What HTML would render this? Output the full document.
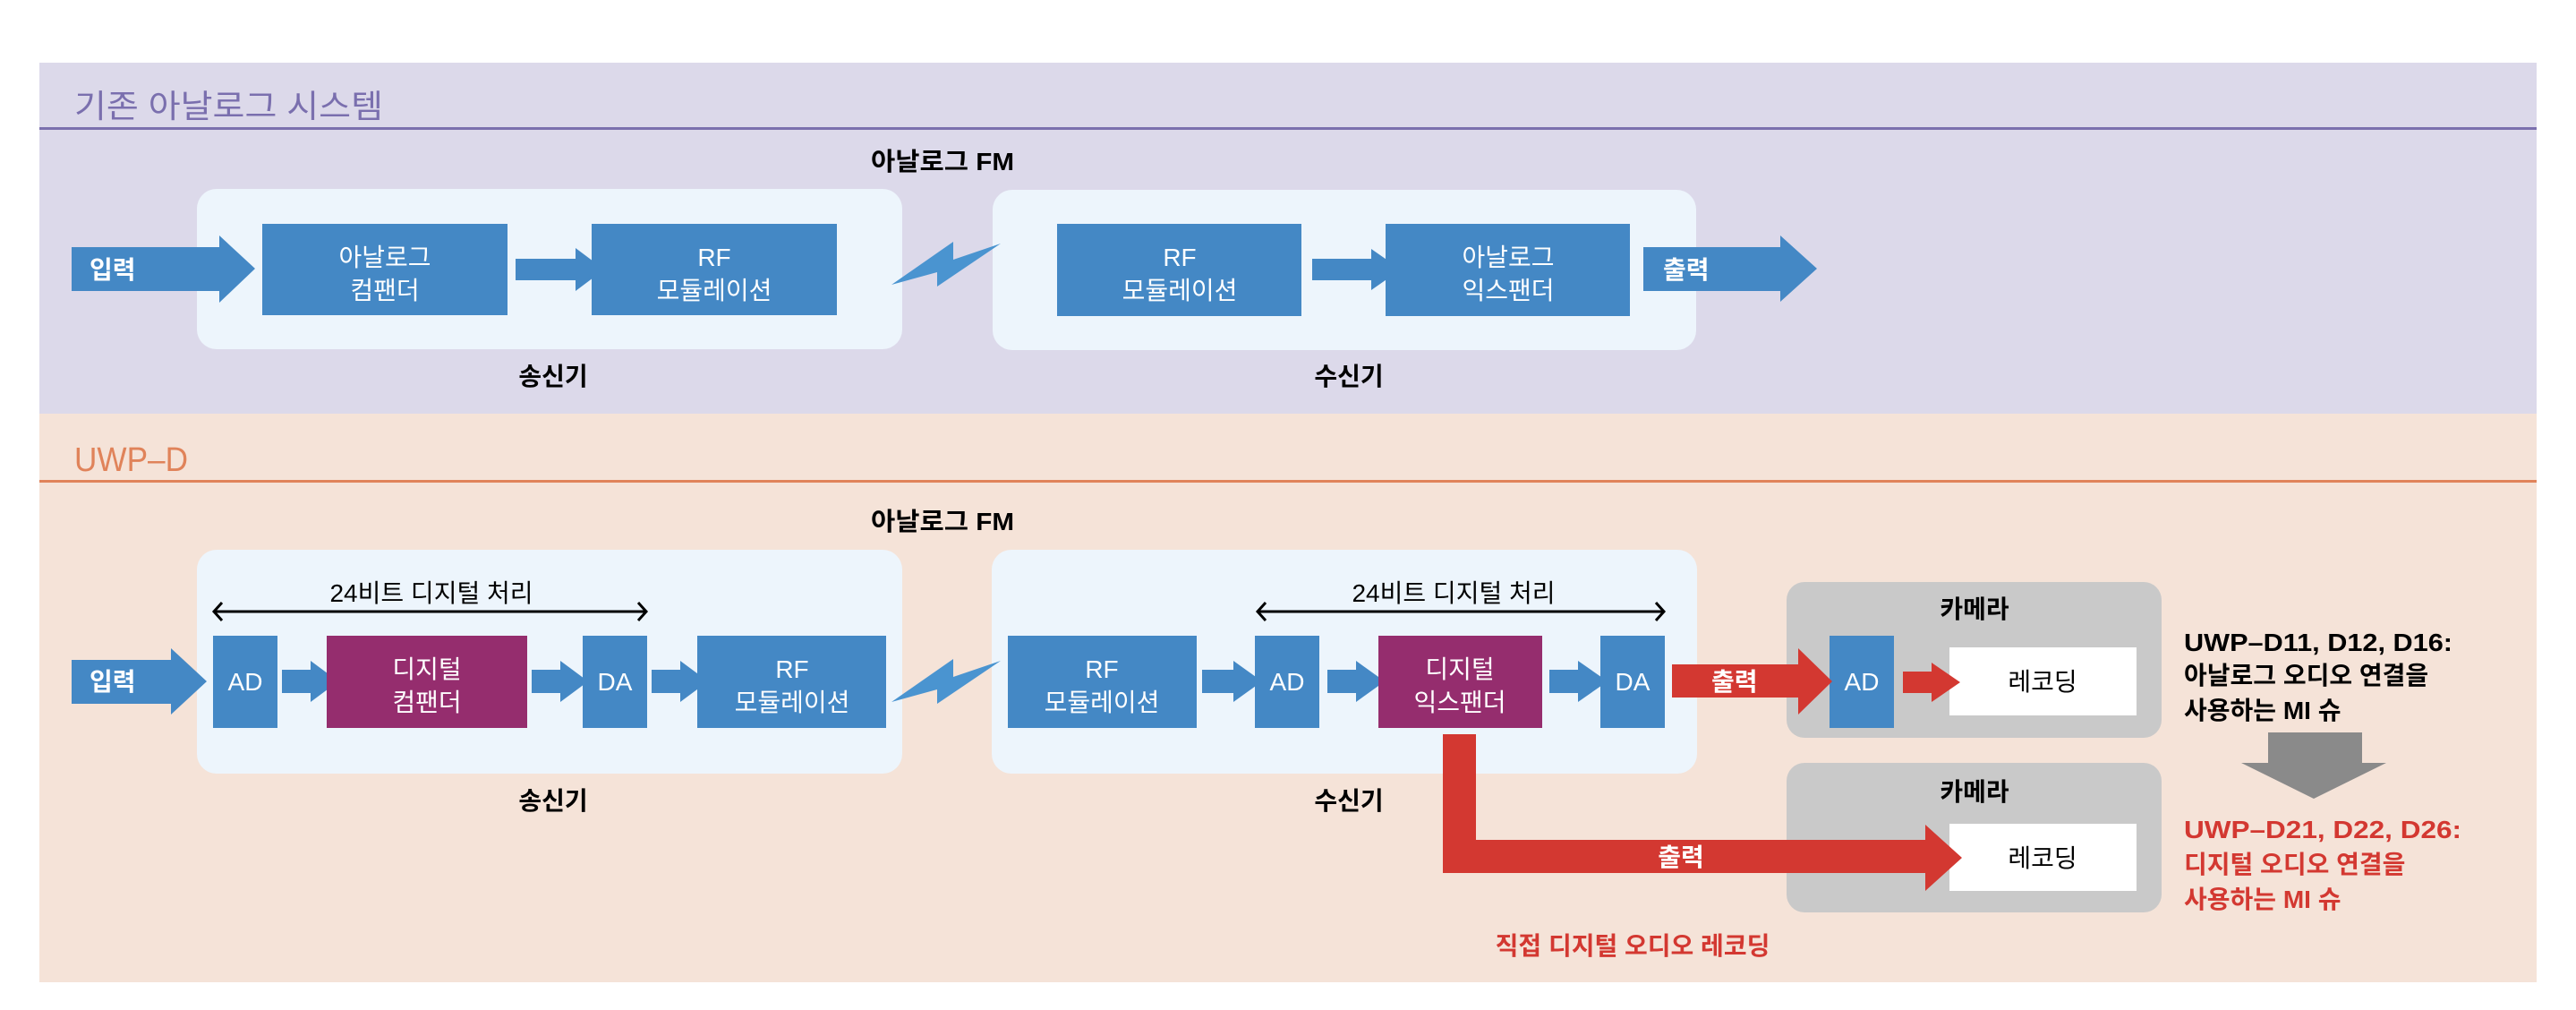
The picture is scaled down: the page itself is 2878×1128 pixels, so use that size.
<!DOCTYPE html>
<html><head><meta charset="utf-8"><style>
html,body{margin:0;padding:0;background:#fff;}
svg{display:block;}
text{font-family:"Liberation Sans","Noto Sans CJK KR",sans-serif;}
.w{fill:#fff;font-size:28px;}
.b{fill:#000;font-size:28px;font-weight:bold;}
.wb{fill:#fff;font-size:28px;font-weight:bold;}
</style></head><body>
<svg width="2878" height="1128" viewBox="0 0 2878 1128" xmlns="http://www.w3.org/2000/svg">
<rect x="44" y="70" width="2790" height="392" fill="#dcd9ea"/>
<rect x="44" y="462" width="2790" height="635" fill="#f5e3d8"/>
<text x="83" y="131" font-size="36" fill="#7a6fae" textLength="345" lengthAdjust="spacingAndGlyphs">기존 아날로그 시스템</text>
<rect x="44" y="142" width="2790" height="3" fill="#7b70ae"/>
<text x="83" y="526" font-size="38" fill="#e0835a" textLength="127" lengthAdjust="spacingAndGlyphs">UWP–D</text>
<rect x="44" y="536" width="2790" height="3" fill="#e0835a"/>

<!-- top section -->
<text class="b" x="973" y="190" textLength="160" lengthAdjust="spacingAndGlyphs">아날로그 FM</text>
<rect x="220" y="211" width="788" height="179" rx="22" fill="#edf5fc"/>
<rect x="1109" y="212" width="786" height="179" rx="22" fill="#edf5fc"/>
<polygon points="80,276 245,276 245,263 285,300 245,338 245,325 80,325" fill="#4488c5"/>
<text class="wb" x="100" y="311">입력</text>
<rect x="293" y="250" width="274" height="102" fill="#4488c5"/>
<text class="w" x="430" y="297" text-anchor="middle">아날로그</text>
<text class="w" x="430" y="334" text-anchor="middle">컴팬더</text>
<polygon points="576,289 643,289 643,277 675,301 643,325 643,313 576,313" fill="#4488c5"/>
<rect x="661" y="250" width="274" height="102" fill="#4488c5"/>
<text class="w" x="798" y="297" text-anchor="middle">RF</text>
<text class="w" x="798" y="334" text-anchor="middle">모듈레이션</text>
<polygon points="996,318 1065,270 1065,290 1118,272 1047,320 1047,304" fill="#4a94d0"/>
<rect x="1181" y="250" width="273" height="103" fill="#4488c5"/>
<text class="w" x="1318" y="297" text-anchor="middle">RF</text>
<text class="w" x="1318" y="334" text-anchor="middle">모듈레이션</text>
<polygon points="1466,289 1532,289 1532,278 1565,301 1532,324 1532,313 1466,313" fill="#4488c5"/>
<rect x="1548" y="250" width="273" height="103" fill="#4488c5"/>
<text class="w" x="1685" y="297" text-anchor="middle">아날로그</text>
<text class="w" x="1685" y="334" text-anchor="middle">익스팬더</text>
<polygon points="1836,276 1989,276 1989,263 2030,300 1989,337 1989,325 1836,325" fill="#4488c5"/>
<text class="wb" x="1858" y="311">출력</text>
<text class="b" x="618" y="430" text-anchor="middle">송신기</text>
<text class="b" x="1507" y="430" text-anchor="middle">수신기</text>

<!-- bottom section -->
<text class="b" x="973" y="592" textLength="160" lengthAdjust="spacingAndGlyphs">아날로그 FM</text>
<rect x="220" y="614" width="788" height="250" rx="22" fill="#edf5fc"/>
<rect x="1108" y="614" width="788" height="250" rx="22" fill="#edf5fc"/>
<text x="482" y="672" font-size="28" fill="#000" text-anchor="middle">24비트 디지털 처리</text>
<line x1="240" y1="683" x2="721" y2="683" stroke="#000" stroke-width="3"/>
<polyline points="248,673 239,683 248,693" fill="none" stroke="#000" stroke-width="3"/>
<polyline points="713,673 722,683 713,693" fill="none" stroke="#000" stroke-width="3"/>
<text x="1624" y="672" font-size="28" fill="#000" text-anchor="middle">24비트 디지털 처리</text>
<line x1="1406" y1="683" x2="1858" y2="683" stroke="#000" stroke-width="3"/>
<polyline points="1414,673 1405,683 1414,693" fill="none" stroke="#000" stroke-width="3"/>
<polyline points="1850,673 1859,683 1850,693" fill="none" stroke="#000" stroke-width="3"/>

<polygon points="80,737 191,737 191,724 231,761 191,798 191,786 80,786" fill="#4488c5"/>
<text class="wb" x="100" y="771">입력</text>
<rect x="238" y="710" width="72" height="103" fill="#4488c5"/>
<text class="w" x="274" y="771" text-anchor="middle">AD</text>
<polygon points="315,748 347,748 347,738 378,761 347,784 347,774 315,774" fill="#4488c5"/>
<rect x="365" y="710" width="224" height="103" fill="#952d6e"/>
<text class="w" x="477" y="757" text-anchor="middle">디지털</text>
<text class="w" x="477" y="794" text-anchor="middle">컴팬더</text>
<polygon points="594,748 626,748 626,738 657,761 626,784 626,774 594,774" fill="#4488c5"/>
<rect x="651" y="710" width="72" height="103" fill="#4488c5"/>
<text class="w" x="687" y="771" text-anchor="middle">DA</text>
<polygon points="728,748 760,748 760,738 791,761 760,784 760,774 728,774" fill="#4488c5"/>
<rect x="779" y="710" width="211" height="103" fill="#4488c5"/>
<text class="w" x="885" y="757" text-anchor="middle">RF</text>
<text class="w" x="885" y="794" text-anchor="middle">모듈레이션</text>
<polygon points="996,784 1065,736 1065,756 1118,738 1047,786 1047,770" fill="#4a94d0"/>
<rect x="1126" y="710" width="211" height="103" fill="#4488c5"/>
<text class="w" x="1231" y="757" text-anchor="middle">RF</text>
<text class="w" x="1231" y="794" text-anchor="middle">모듈레이션</text>
<polygon points="1343,748 1378,748 1378,738 1410,761 1378,784 1378,774 1343,774" fill="#4488c5"/>
<rect x="1402" y="710" width="72" height="103" fill="#4488c5"/>
<text class="w" x="1438" y="771" text-anchor="middle">AD</text>
<polygon points="1483,748 1515,748 1515,738 1547,761 1515,784 1515,774 1483,774" fill="#4488c5"/>
<rect x="1540" y="710" width="183" height="103" fill="#952d6e"/>
<text class="w" x="1631" y="757" text-anchor="middle">디지털</text>
<text class="w" x="1631" y="794" text-anchor="middle">익스팬더</text>
<polygon points="1731,748 1763,748 1763,738 1796,761 1763,784 1763,774 1731,774" fill="#4488c5"/>
<rect x="1788" y="710" width="72" height="103" fill="#4488c5"/>
<text class="w" x="1824" y="771" text-anchor="middle">DA</text>
<text class="b" x="618" y="904" text-anchor="middle">송신기</text>
<text class="b" x="1507" y="904" text-anchor="middle">수신기</text>

<!-- cameras -->
<rect x="1996" y="650" width="419" height="174" rx="20" fill="#c9c9c9"/>
<text class="b" x="2206" y="690" text-anchor="middle">카메라</text>
<rect x="2044" y="710" width="72" height="103" fill="#4488c5"/>
<text class="w" x="2080" y="771" text-anchor="middle">AD</text>
<rect x="2178" y="723" width="209" height="76" fill="#fff"/>
<text x="2282" y="771" font-size="28" fill="#000" text-anchor="middle">레코딩</text>
<rect x="1996" y="852" width="419" height="167" rx="20" fill="#c9c9c9"/>
<text class="b" x="2206" y="894" text-anchor="middle">카메라</text>
<rect x="2178" y="920" width="209" height="75" fill="#fff"/>
<text x="2282" y="968" font-size="28" fill="#000" text-anchor="middle">레코딩</text>

<!-- red arrows -->
<polygon points="1868,742 2009,742 2009,724 2047,761 2009,798 2009,779 1868,779" fill="#d33831"/>
<text class="wb" x="1912" y="771">출력</text>
<polygon points="2126,750 2158,750 2158,740 2190,762 2158,784 2158,774 2126,774" fill="#d33831"/>
<polygon points="1612,820 1649,820 1649,938 2151,938 2151,921 2192,958 2151,995 2151,975 1612,975" fill="#d33831"/>
<text class="wb" x="1878" y="967" text-anchor="middle">출력</text>
<text x="1824" y="1066" font-size="28" font-weight="bold" fill="#d33831" text-anchor="middle">직접 디지털 오디오 레코딩</text>

<!-- right notes -->
<text class="b" x="2440" y="727" font-size="30" textLength="300" lengthAdjust="spacingAndGlyphs">UWP–D11, D12, D16:</text>
<text class="b" x="2440" y="764">아날로그 오디오 연결을</text>
<text class="b" x="2440" y="803">사용하는 MI 슈</text>
<polygon points="2534,818 2639,818 2639,852 2666,852 2585,892 2504,852 2534,852" fill="#8a8a8a"/>
<text x="2440" y="936" font-size="28" font-weight="bold" fill="#d33831" textLength="310" lengthAdjust="spacingAndGlyphs">UWP–D21, D22, D26:</text>
<text x="2440" y="975" font-size="28" font-weight="bold" fill="#d33831">디지털 오디오 연결을</text>
<text x="2440" y="1014" font-size="28" font-weight="bold" fill="#d33831">사용하는 MI 슈</text>
</svg>
</body></html>
